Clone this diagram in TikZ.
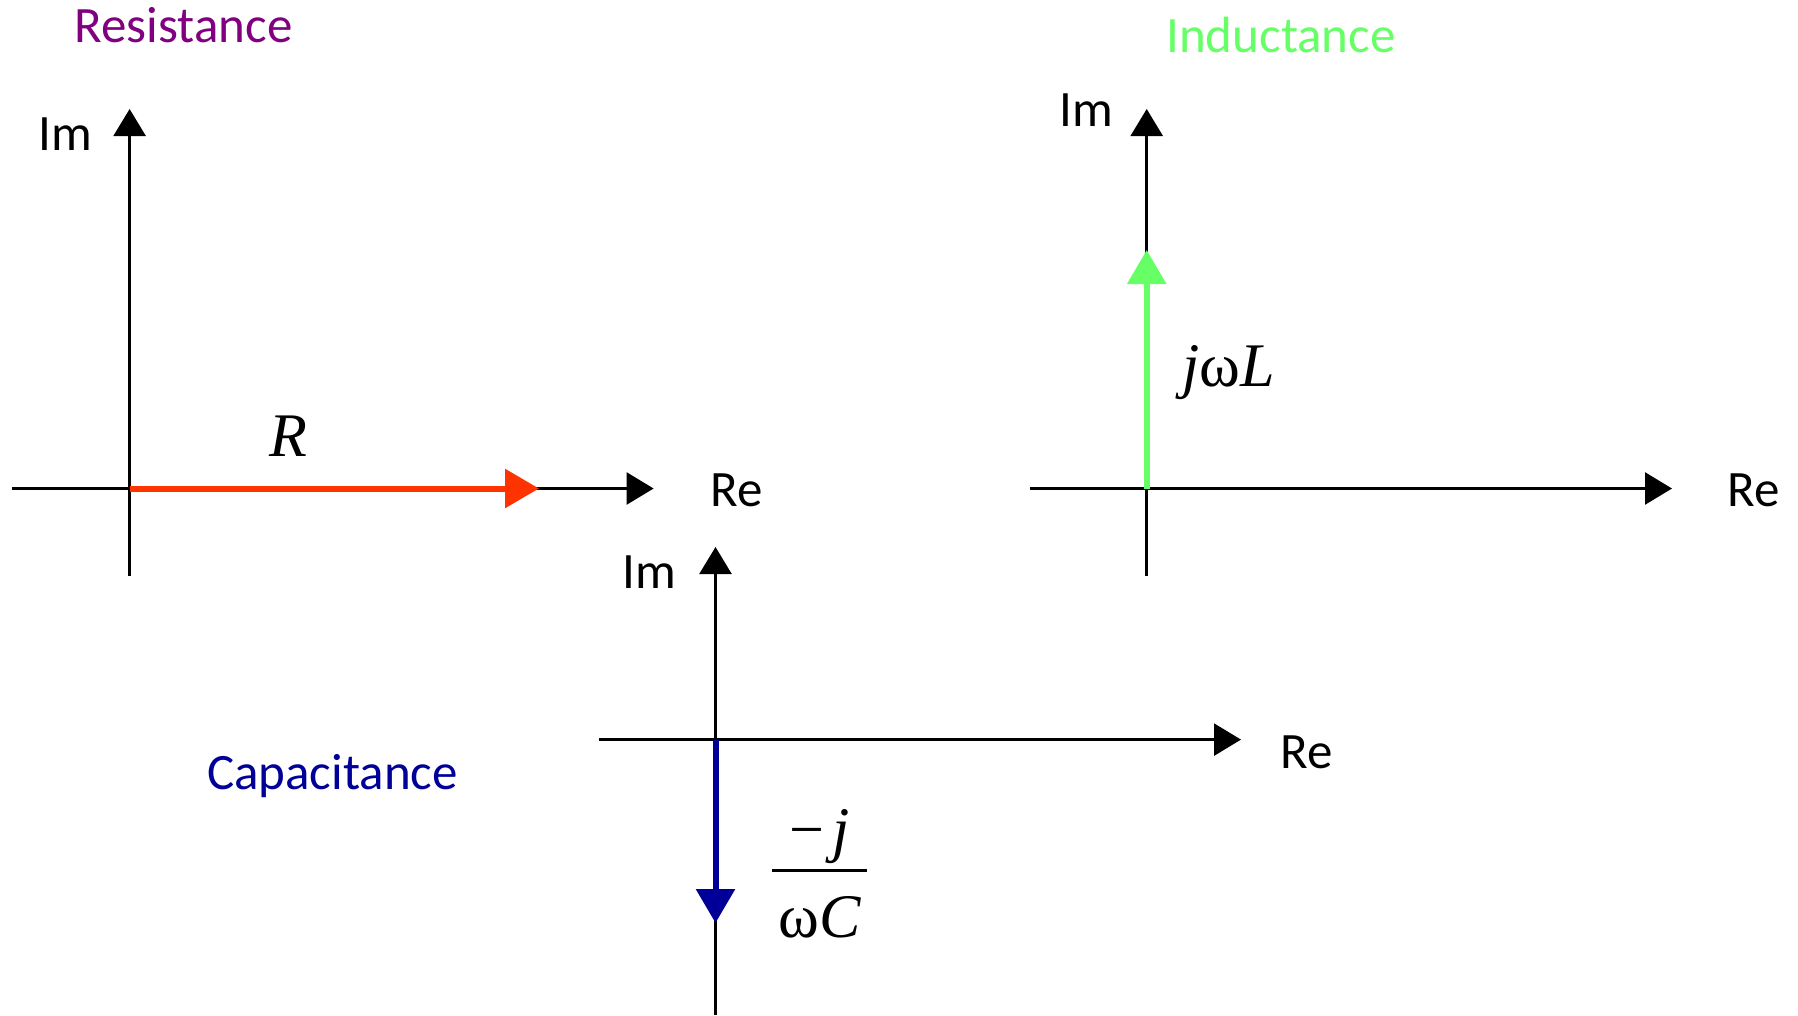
\documentclass[tikz,border=0pt]{standalone}
\usepackage{fontspec}
\setmainfont{Carlito}
\newfontfamily\tms{Liberation Serif}
\usetikzlibrary{arrows.meta}
\definecolor{resc}{HTML}{800080}
\definecolor{indc}{HTML}{66FF66}
\definecolor{capc}{HTML}{000099}
\definecolor{redv}{HTML}{FF3300}
\begin{document}
\begin{tikzpicture}[x=1pt,y=-1pt,
  axis/.style={line width=2.5pt,-{Triangle[length=27pt,width=32pt]}},
  lbl/.style={font=\fontsize{51}{60}\selectfont,inner sep=0pt},
  mth/.style={font=\tms\fontsize{62}{70}\selectfont,inner sep=0pt},
  vec/.style={line width=6pt,-{Triangle[length=34pt,width=38pt]}}]
\useasboundingbox (0,0) rectangle (1798,1015);
% ---------- Resistance ----------
\coordinate (o1) at (129.6,488.5);
\coordinate (v1b) at (129.6,575.6);
\coordinate (v1t) at (129.6,109);
\coordinate (h1l) at (11.5,488.5);
\coordinate (h1r) at (653.6,488.5);
\coordinate (r1) at (539,488.5);
\draw[axis] (v1b) -- (v1t);
\draw[axis] (h1l) -- (h1r);
\draw[vec,redv] (o1) -- (r1);
\node[lbl] (im1) at (65,134) {Im};
\node[lbl] (re1) at (737,490) {Re};
\node[mth] (rl) at (288,436) {\itshape R};
\node[lbl,text=resc] (tres) at (183.5,25) {Resistance};
% ---------- Inductance ----------
\coordinate (o2) at (1146.7,488.5);
\coordinate (v2b) at (1146.7,575.6);
\coordinate (v2t) at (1146.7,109);
\coordinate (h2l) at (1029.7,488.5);
\coordinate (h2r) at (1672,488.5);
\coordinate (l2) at (1146.7,250);
\draw[axis] (v2b) -- (v2t);
\draw[axis] (h2l) -- (h2r);
\draw[vec,indc] (o2) -- (l2);
\node[lbl] (im2) at (1086,110) {Im};
\node[lbl] (re2) at (1754,490) {Re};
\node[mth] (jwl) at (1229,373) {\itshape j\upshape ω\itshape L};
\node[lbl,text=indc] (tind) at (1281,35) {Inductance};
% ---------- Capacitance ----------
\coordinate (o3) at (715.5,739.6);
\coordinate (v3b) at (715.5,1015);
\coordinate (v3t) at (715.5,547);
\coordinate (h3l) at (598.6,739.6);
\coordinate (h3r) at (1241,739.6);
\coordinate (c3) at (715.5,923);
\draw[axis] (v3b) -- (v3t);
\draw[axis] (h3l) -- (h3r);
\draw[vec,capc] (o3) -- (c3);
\node[lbl] (im3) at (649,572) {Im};
\node[lbl] (re3) at (1307,752) {Re};
\node[mth] (num) at (820,837) {−\kern 8pt\itshape j};
\coordinate (barl) at (772,870);
\coordinate (barr) at (867,870);
\draw[line width=3pt] (barl) -- (barr);
\node[mth] (den) at (820,917) {ω\itshape C};
\node[lbl,text=capc] (tcap) at (332.5,776) {Capacitance};
\end{tikzpicture}
\end{document}
